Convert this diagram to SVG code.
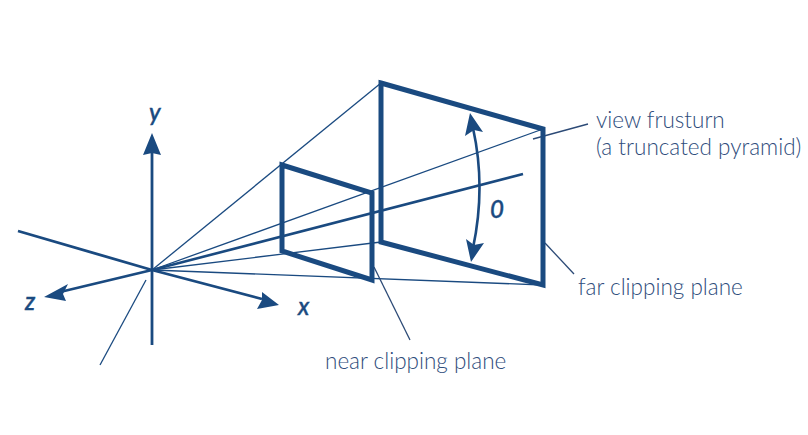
<svg xmlns="http://www.w3.org/2000/svg" width="808" height="435" viewBox="0 0 808 435">
<style>
.l{fill:none;stroke:#1a4a80;stroke-linecap:butt}
.thin{stroke-width:1.3}
.mid{stroke-width:2.6}
.axis{stroke-width:2.8}
.plane{fill:none;stroke:#1a4a80;stroke-width:5;stroke-linejoin:miter}
.head{fill:#1a4a80;stroke:none}
.lead{fill:none;stroke:#2c4a76;stroke-width:1.3}
text{font-family:Lato,"Liberation Sans",sans-serif}
.lab{font-size:22.5px;font-weight:300;fill:#2f4d7c}
.ax{font-size:24px;font-weight:500;font-style:italic;fill:#1a4a80;stroke:#1a4a80;stroke-width:.4}
</style>
<rect width="808" height="435" fill="#fff"/>
<g id="connectors">
<path class="l axis" d="M152 345V150"/>
<path class="l axis" d="M18 231L152 270L262 299"/>
<path class="l axis" d="M152 270L60 292"/>
<path class="l thin" d="M146 280L100 365"/>
<path class="l thin" d="M152 270L381 83"/>
<path class="l thin" d="M152 270L543 129"/>
<path class="l thin" d="M152 270L381 242"/>
<path class="l thin" d="M152 270L543 285"/>
<path class="l mid" d="M152 270L523 174"/>
<path class="lead" d="M533 139L588 124"/>
<path class="lead" d="M374 267L410 340"/>
<path class="lead" d="M545 243L574 274"/>
<path class="l mid" d="M473 128Q486 187 473 248"/>
<polygon class="head" points="152,133 161,155 152,153 143,155"/>
<polygon class="head" points="44,297 68,284 63,294 66,301"/>
<polygon class="head" points="279,305 257,309 262,300 262,292"/>
<polygon class="head" points="470,113 483,132 474,130 465,136"/>
<polygon class="head" points="471,262 466,239 474,245 484,243"/>
</g>
<g id="near-plane"><polygon class="plane" points="282,165 372,193 372,280 282,251"/></g>
<g id="far-plane"><polygon class="plane" points="381,83 543,129 543,285 381,242"/></g>
<g id="labels">
<text class="ax" x="149" y="121">y</text>
<text class="ax" x="25" y="310">z</text>
<text class="ax" x="298" y="315">x</text>
<text class="ax" x="490" y="218">0</text>
<text class="lab" x="596" y="128">view frusturn</text>
<text class="lab" x="596" y="155">(a truncated pyramid)</text>
<text class="lab" x="578" y="295">far clipping plane</text>
<text class="lab" x="325" y="369">near clipping plane</text>
</g>
</svg>
